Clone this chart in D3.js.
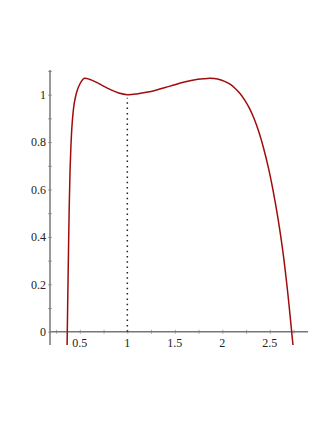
<!DOCTYPE html>
<html>
<head>
<meta charset="utf-8">
<script src="https://cdn.jsdelivr.net/npm/d3@7"></script>
<style>
  body { margin: 0; background: #fff; }
  svg { display: block; }
</style>
</head>
<body>
<div class="chart"></div>
<script>
// curve samples
const xs = [0.366, 0.368, 0.378, 0.388, 0.397, 0.406, 0.416, 0.428, 0.442, 0.463, 0.486, 0.516, 0.547, 0.600, 0.660, 0.730, 0.818, 0.910, 1.000, 1.100, 1.200, 1.300, 1.400, 1.500, 1.600, 1.700, 1.800, 1.871, 1.950, 2.030, 2.081, 2.136, 2.186, 2.236, 2.286, 2.336, 2.386, 2.436, 2.486, 2.536, 2.586, 2.636, 2.686, 2.730, 2.744];
const ys = [-0.056, 0, 0.270, 0.520, 0.680, 0.780, 0.860, 0.920, 0.965, 1.005, 1.032, 1.056, 1.069, 1.065, 1.055, 1.040, 1.022, 1.007, 1.000, 1.003, 1.010, 1.019, 1.030, 1.042, 1.053, 1.062, 1.067, 1.069, 1.066, 1.055, 1.044, 1.026, 1.005, 0.977, 0.942, 0.897, 0.841, 0.772, 0.690, 0.592, 0.478, 0.343, 0.175, 0, -0.056];
const xTicks = [0.5, 1, 1.5, 2, 2.5];
const yTicks = [0, 0.2, 0.4, 0.6, 0.8, 1];
const xLabels = ["0.5", "1", "1.5", "2", "2.5"];
const yLabels = ["0", "0.2", "0.4", "0.6", "0.8", "1"];
const markX = 1;
const markY = 1;

const width = 333;
const height = 430;

const x = d3.scaleLinear().domain([0.186, 2.902]).range([50, 308]);
const y = d3.scaleLinear().domain([-0.056, 1.104]).range([345, 70]);

const svg = d3.select(".chart").append("svg")
  .attr("width", width)
  .attr("height", height);

const axisColor = "#777";

// x axis
const xAxis = svg.append("g")
  .attr("transform", "translate(0," + y(0) + ")")
  .call(d3.axisBottom(x)
    .tickValues(d3.range(0.25, 2.9, 0.25))
    .tickSize(2)
    .tickFormat(""));
xAxis.select(".domain").remove();
xAxis.selectAll(".tick line").attr("stroke", "#aaa").attr("y1", -2);
xAxis.append("line")
  .attr("x1", x.range()[0]).attr("x2", x.range()[1])
  .attr("stroke", axisColor).attr("stroke-width", 1.5);

svg.append("g").selectAll("text")
  .data(xTicks)
  .enter()
  .append("text")
  .attr("x", d => x(d))
  .attr("y", y(0) + 15)
  .style("text-anchor", "middle")
  .style("font-family", "Liberation Serif")
  .style("font-size", "12px")
  .attr("fill", "#222")
  .text((d, i) => xLabels[i]);

// y axis
const yAxis = svg.append("g")
  .attr("transform", "translate(" + x.range()[0] + ",0)")
  .call(d3.axisLeft(y)
    .tickValues(d3.range(0, 1.11, 0.1))
    .tickSize(2)
    .tickFormat(""));
yAxis.select(".domain").remove();
yAxis.selectAll(".tick line").attr("stroke", "#aaa").attr("x1", 2);
yAxis.append("line")
  .attr("y1", y.range()[0]).attr("y2", y.range()[1])
  .attr("stroke", axisColor).attr("stroke-width", 1.5);

svg.append("g").selectAll("text")
  .data(yTicks)
  .enter()
  .append("text")
  .attr("x", x.range()[0] - 4)
  .attr("y", d => y(d))
  .attr("dy", "0.35em")
  .style("text-anchor", "end")
  .style("font-family", "Liberation Serif")
  .style("font-size", "12px")
  .attr("fill", "#222")
  .text((d, i) => yLabels[i]);

// dotted marker
svg.append("line")
  .attr("x1", x(markX)).attr("x2", x(markX))
  .attr("y1", y(0)).attr("y2", y(markY) + 3)
  .attr("stroke", "#222")
  .attr("stroke-width", 1.5)
  .attr("stroke-dasharray", "1.5,3.8");

// curve
const line = d3.line()
  .x(d => x(d[0]))
  .y(d => y(d[1]))
  .curve(d3.curveCatmullRom.alpha(0.5));

svg.append("path")
  .datum(d3.zip(xs, ys))
  .attr("d", line)
  .attr("fill", "none")
  .attr("stroke", "#a00c0c")
  .attr("stroke-width", 1.5);
</script>
</body>
</html>
